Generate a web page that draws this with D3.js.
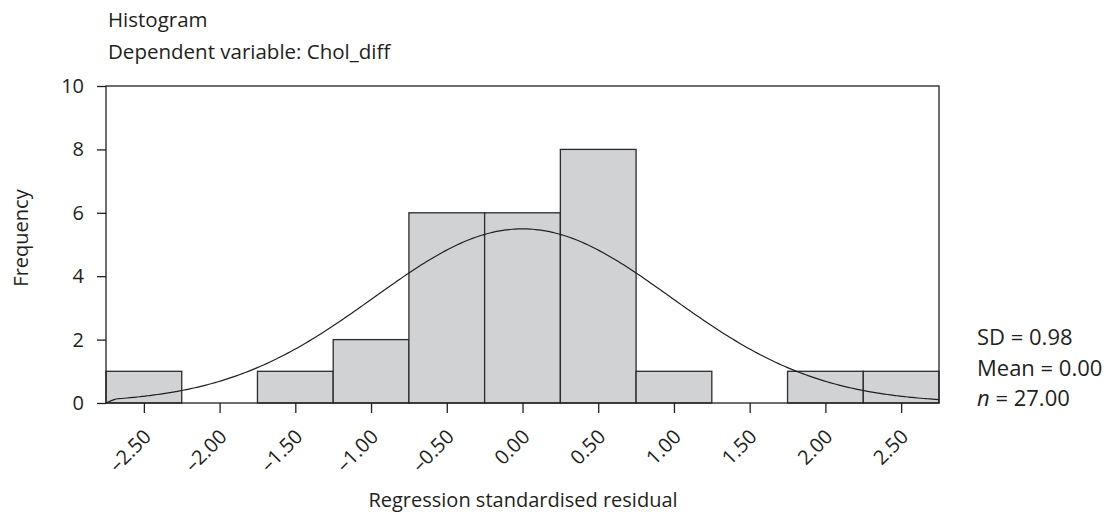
<!DOCTYPE html>
<html>
<head>
<meta charset="utf-8">
<script src="https://cdn.jsdelivr.net/npm/d3@7"></script>
<style>
  html, body { margin: 0; padding: 0; background: #fff; }
  svg text { font-family: "Open Sans", Lato, sans-serif; fill: #231f20; }
</style>
</head>
<body>
<svg id="chart" width="1112" height="520"></svg>
<script>
// Histogram of regression standardised residuals with a fitted normal curve
const binStarts = [-2.75, -2.25, -1.75, -1.25, -0.75, -0.25, 0.25, 0.75, 1.25, 1.75, 2.25];
const counts    = [1, 0, 1, 2, 6, 6, 8, 1, 0, 1, 1];
const binWidth  = 0.5;
const xTicks    = [-2.5, -2.0, -1.5, -1.0, -0.5, 0, 0.5, 1.0, 1.5, 2.0, 2.5];
const yTicks    = [0, 2, 4, 6, 8, 10];
const statSD    = 0.98;
const statMean  = 0.00;
const statN     = 27;

const svg = d3.select("#chart");
const plotL = 106, plotR = 939, plotT = 86, plotB = 403;

const x = d3.scaleLinear().domain([-2.75, 2.75]).range([plotL, plotR]);
const y = d3.scaleLinear().domain([0, 10]).range([plotB, plotT]);

const fmt = v => (v < 0 ? "\u2013" : "") + Math.abs(v).toFixed(2);

// Bars
svg.append("g").selectAll("rect")
  .data(binStarts.map((s, i) => ({ s, c: counts[i] })).filter(d => d.c > 0))
  .join("rect")
  .attr("x", d => x(d.s))
  .attr("y", d => y(d.c))
  .attr("width", d => x(d.s + binWidth) - x(d.s))
  .attr("height", d => y(0) - y(d.c))
  .attr("fill", "#d1d2d4")
  .attr("stroke", "#2b2b2b")
  .attr("stroke-width", 1.3);

// Normal curve implied by the reported mean, SD and n
const pdf = v => statN * binWidth / (statSD * Math.sqrt(2 * Math.PI)) *
  Math.exp(-0.5 * Math.pow((v - statMean) / statSD, 2));
const curvePts = [[-2.75, 0]];
for (let v = -2.69; v <= 2.75 + 1e-9; v += 0.02) curvePts.push([v, pdf(v)]);
svg.append("path")
  .attr("d", d3.line().x(d => x(d[0])).y(d => y(d[1])).curve(d3.curveBasis)(curvePts))
  .attr("fill", "none")
  .attr("stroke", "#231f20")
  .attr("stroke-width", 1.2);

// Frame
svg.append("rect")
  .attr("x", plotL).attr("y", plotT)
  .attr("width", plotR - plotL).attr("height", plotB - plotT)
  .attr("fill", "none").attr("stroke", "#231f20").attr("stroke-width", 1.3);

// Y axis
const yAxis = svg.append("g")
  .attr("transform", `translate(${plotL},0)`)
  .call(d3.axisLeft(y).tickValues(yTicks).tickSize(9).tickSizeOuter(0).tickPadding(13).tickFormat(d3.format("d")));
yAxis.select(".domain").remove();
yAxis.selectAll("line").attr("stroke", "#231f20").attr("stroke-width", 1.3);
yAxis.selectAll("text").attr("font-size", 20).attr("fill", "#231f20");

// X axis
const xAxis = svg.append("g")
  .attr("transform", `translate(0,${plotB})`)
  .call(d3.axisBottom(x).tickValues(xTicks).tickSize(10).tickSizeOuter(0).tickFormat(fmt));
xAxis.select(".domain").remove();
xAxis.selectAll("line").attr("stroke", "#231f20").attr("stroke-width", 1.3);
xAxis.selectAll("text")
  .attr("font-size", 20)
  .attr("fill", "#231f20")
  .attr("text-anchor", "end")
  .attr("dy", null)
  .attr("y", null)
  .attr("transform", "translate(8,35) rotate(-45)");

// Titles
svg.append("text").attr("x", 108).attr("y", 27).attr("font-size", 20.5).text("Histogram");
svg.append("text").attr("x", 108).attr("y", 59).attr("font-size", 20.5).text("Dependent variable: Chol_diff");

svg.append("text")
  .attr("x", 523).attr("y", 507).attr("text-anchor", "middle").attr("font-size", 20)
  .text("Regression standardised residual");

svg.append("text")
  .attr("transform", "translate(28,238) rotate(-90)")
  .attr("text-anchor", "middle").attr("font-size", 20)
  .text("Frequency");

// Summary statistics
const stats = svg.append("g").attr("font-size", 22);
stats.append("text").attr("x", 977).attr("y", 345).text(`SD = ${statSD.toFixed(2)}`);
stats.append("text").attr("x", 977).attr("y", 376).text(`Mean = ${statMean.toFixed(2)}`);
const nt = stats.append("text").attr("x", 977).attr("y", 406);
nt.append("tspan").attr("font-style", "italic").text("n");
nt.append("tspan").text(` = ${statN.toFixed(2)}`);
</script>
</body>
</html>
